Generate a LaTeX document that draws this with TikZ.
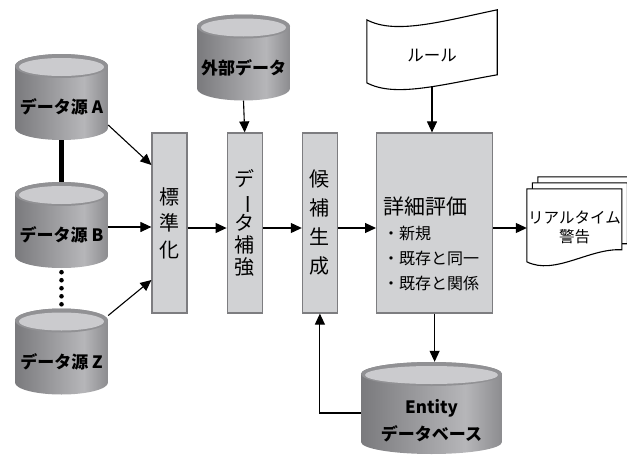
\documentclass[tikz,border=0pt]{standalone}
\usepackage{fontspec}
\usepackage{graphicx}
\newfontfamily\jpfont{Noto Sans CJK JP}
\usetikzlibrary{positioning,arrows.meta,calc,backgrounds}

\definecolor{dbdark}{RGB}{122,122,125}
\definecolor{dblight}{RGB}{182,182,185}
\definecolor{dbedge}{RGB}{140,140,143}
\definecolor{dbrim}{RGB}{145,145,148}
\definecolor{dbtop}{RGB}{203,203,206}
\definecolor{stagefill}{RGB}{209,210,212}
\definecolor{stageline}{RGB}{125,125,128}
\pgfdeclarehorizontalshading{dbbody}{100bp}{color(0bp)=(dbdark); color(25bp)=(dbdark);
  color(62bp)=(dblight); color(75bp)=(dbedge); color(100bp)=(dbedge)}

\begin{document}
\begin{tikzpicture}[x=1pt, y=1pt, >={Triangle[length=11pt,width=10pt]},
  flow/.style={->, line width=1.1pt},
  docline/.style={line width=1.1pt},
  stage/.style={draw=stageline, fill=stagefill, line width=1.2pt,
    minimum width=35pt, minimum height=180pt, inner sep=0pt, align=center},
  db/.style={minimum width=#1, inner sep=0pt, text height=59.5pt, text depth=26.5pt,
    font=\jpfont\bfseries\fontsize{17}{19}\selectfont,
    path picture={
      \shade[shading=dbbody]
        ([yshift=-12pt]path picture bounding box.north west)
        -- ([yshift=12pt]path picture bounding box.south west)
        arc[start angle=180, end angle=360, x radius=#1/2, y radius=12]
        -- ([yshift=-12pt]path picture bounding box.north east)
        arc[start angle=0, end angle=180, x radius=#1/2, y radius=12] -- cycle;
      \fill[dbrim] ([yshift=-12pt]path picture bounding box.north)
        ellipse[x radius=#1/2, y radius=12];
      \fill[dbtop] ([yshift=-13pt]path picture bounding box.north)
        ellipse[x radius=#1/2-4, y radius=9];
    }},
  node distance=39pt]
  \useasboundingbox (0,0) rectangle (627,-455);

  \node[db=93] (srcA) at (61.5,-97) {データ源 A};
  \node[db=93] (srcB) at (61.5,-225) {データ源 B};
  \node[db=93] (srcZ) at (61.5,-351.5) {データ源 Z};
  \node[db=93] (ext) at (243.5,-57.5) {外部データ};

  \node[stage, font=\jpfont\fontsize{20}{26.5}\selectfont] (std) at (169.5,-223)
    {標\\準\\化};
  \node[stage, font=\jpfont\fontsize{20}{22}\selectfont, right=of std] (enrich)
    {デ\\\rotatebox[origin=c]{-90}{ー}\\タ\\補\\強};
  \node[stage, font=\jpfont\fontsize{20}{29}\selectfont, right=of enrich] (cand)
    {候\\補\\生\\成};
  \node[stage, minimum width=116pt, right=38pt of cand] (eval) {};
  \node[anchor=north west, inner sep=0pt, align=left,
        font=\jpfont\fontsize{16}{25}\selectfont] (evaltxt)
    at ([xshift=7pt,yshift=-64pt]eval.north west)
    {{\fontsize{21}{25}\selectfont 詳細評価}\\・新規\\・既存と同一\\・既存と関係};

  \node[db=141, text height=63.5pt, text depth=28.5pt,
        font=\jpfont\bfseries\fontsize{17}{27}\selectfont] (entity) at (431.5,-408)
    {\begin{tabular}{@{}c@{}}Entity\\データベース\end{tabular}};

  \node[inner sep=0pt, minimum width=130pt, text height=51pt, text depth=26pt,
        font=\jpfont\fontsize{16.5}{19}\selectfont] (rule) at (432,-48.5) {ルール};
  \draw[docline] ([yshift=-10pt]rule.north west)
    .. controls +(28,-15) and +(-57,-12) .. (rule.north east)
    -- ([yshift=-65pt]rule.north east)
    .. controls +(-57,-10) and +(28,-15) .. ([yshift=-73pt]rule.north west) -- cycle;

  \node[inner sep=0pt, minimum width=95pt, minimum height=77pt, align=center,
        font=\jpfont\fontsize{15.5}{19}\selectfont] (alert) at (574.5,-227.5)
    {リアルタイム\\警告};
  \begin{scope}[on background layer]
    \foreach \s in {2,1,0}
      \draw[docline, fill=white] ([shift={(5.5*\s,6*\s)}]alert.north west)
        -- ++(95,0) -- ++(0,-61)
        .. controls +(-32,2) and +(28,-14) .. ++(-95,-12) -- cycle;
  \end{scope}

  \draw[line width=4.5pt] (srcA.south) -- (srcB.north);
  \foreach \k in {0,...,4}
    \fill ($(srcB.south)!{0.1+0.2*\k}!(srcZ.north)$) circle (2.3pt);

  \draw[flow] ([yshift=-28pt]srcA.east) -- ([yshift=58pt]std.west);
  \draw[flow] ([yshift=-2pt]srcB.east) coordinate (bout) -- (bout -| std.west);
  \draw[flow] ([yshift=36pt]srcZ.east) -- ([yshift=-57pt]std.west);
  \draw[flow] ([yshift=-5pt]std.east) -- ([yshift=-5pt]enrich.west);
  \draw[flow] ([yshift=-5pt]enrich.east) -- ([yshift=-5pt]cand.west);
  \draw[flow] ([yshift=-5pt]cand.east) -- ([yshift=-5pt]eval.west);
  \draw[flow] ([yshift=-5pt]eval.east) -- ([yshift=-5pt]eval.east -| alert.west);
  \draw[flow] (ext.south) -- (enrich.north);
  \draw[flow] (rule.south) -- (rule.south |- eval.north);
  \draw[flow] (eval.south) -- (eval.south |- entity.north);
  \draw[flow] ([yshift=-5pt]entity.west) -| (cand.south);
\end{tikzpicture}
\end{document}
